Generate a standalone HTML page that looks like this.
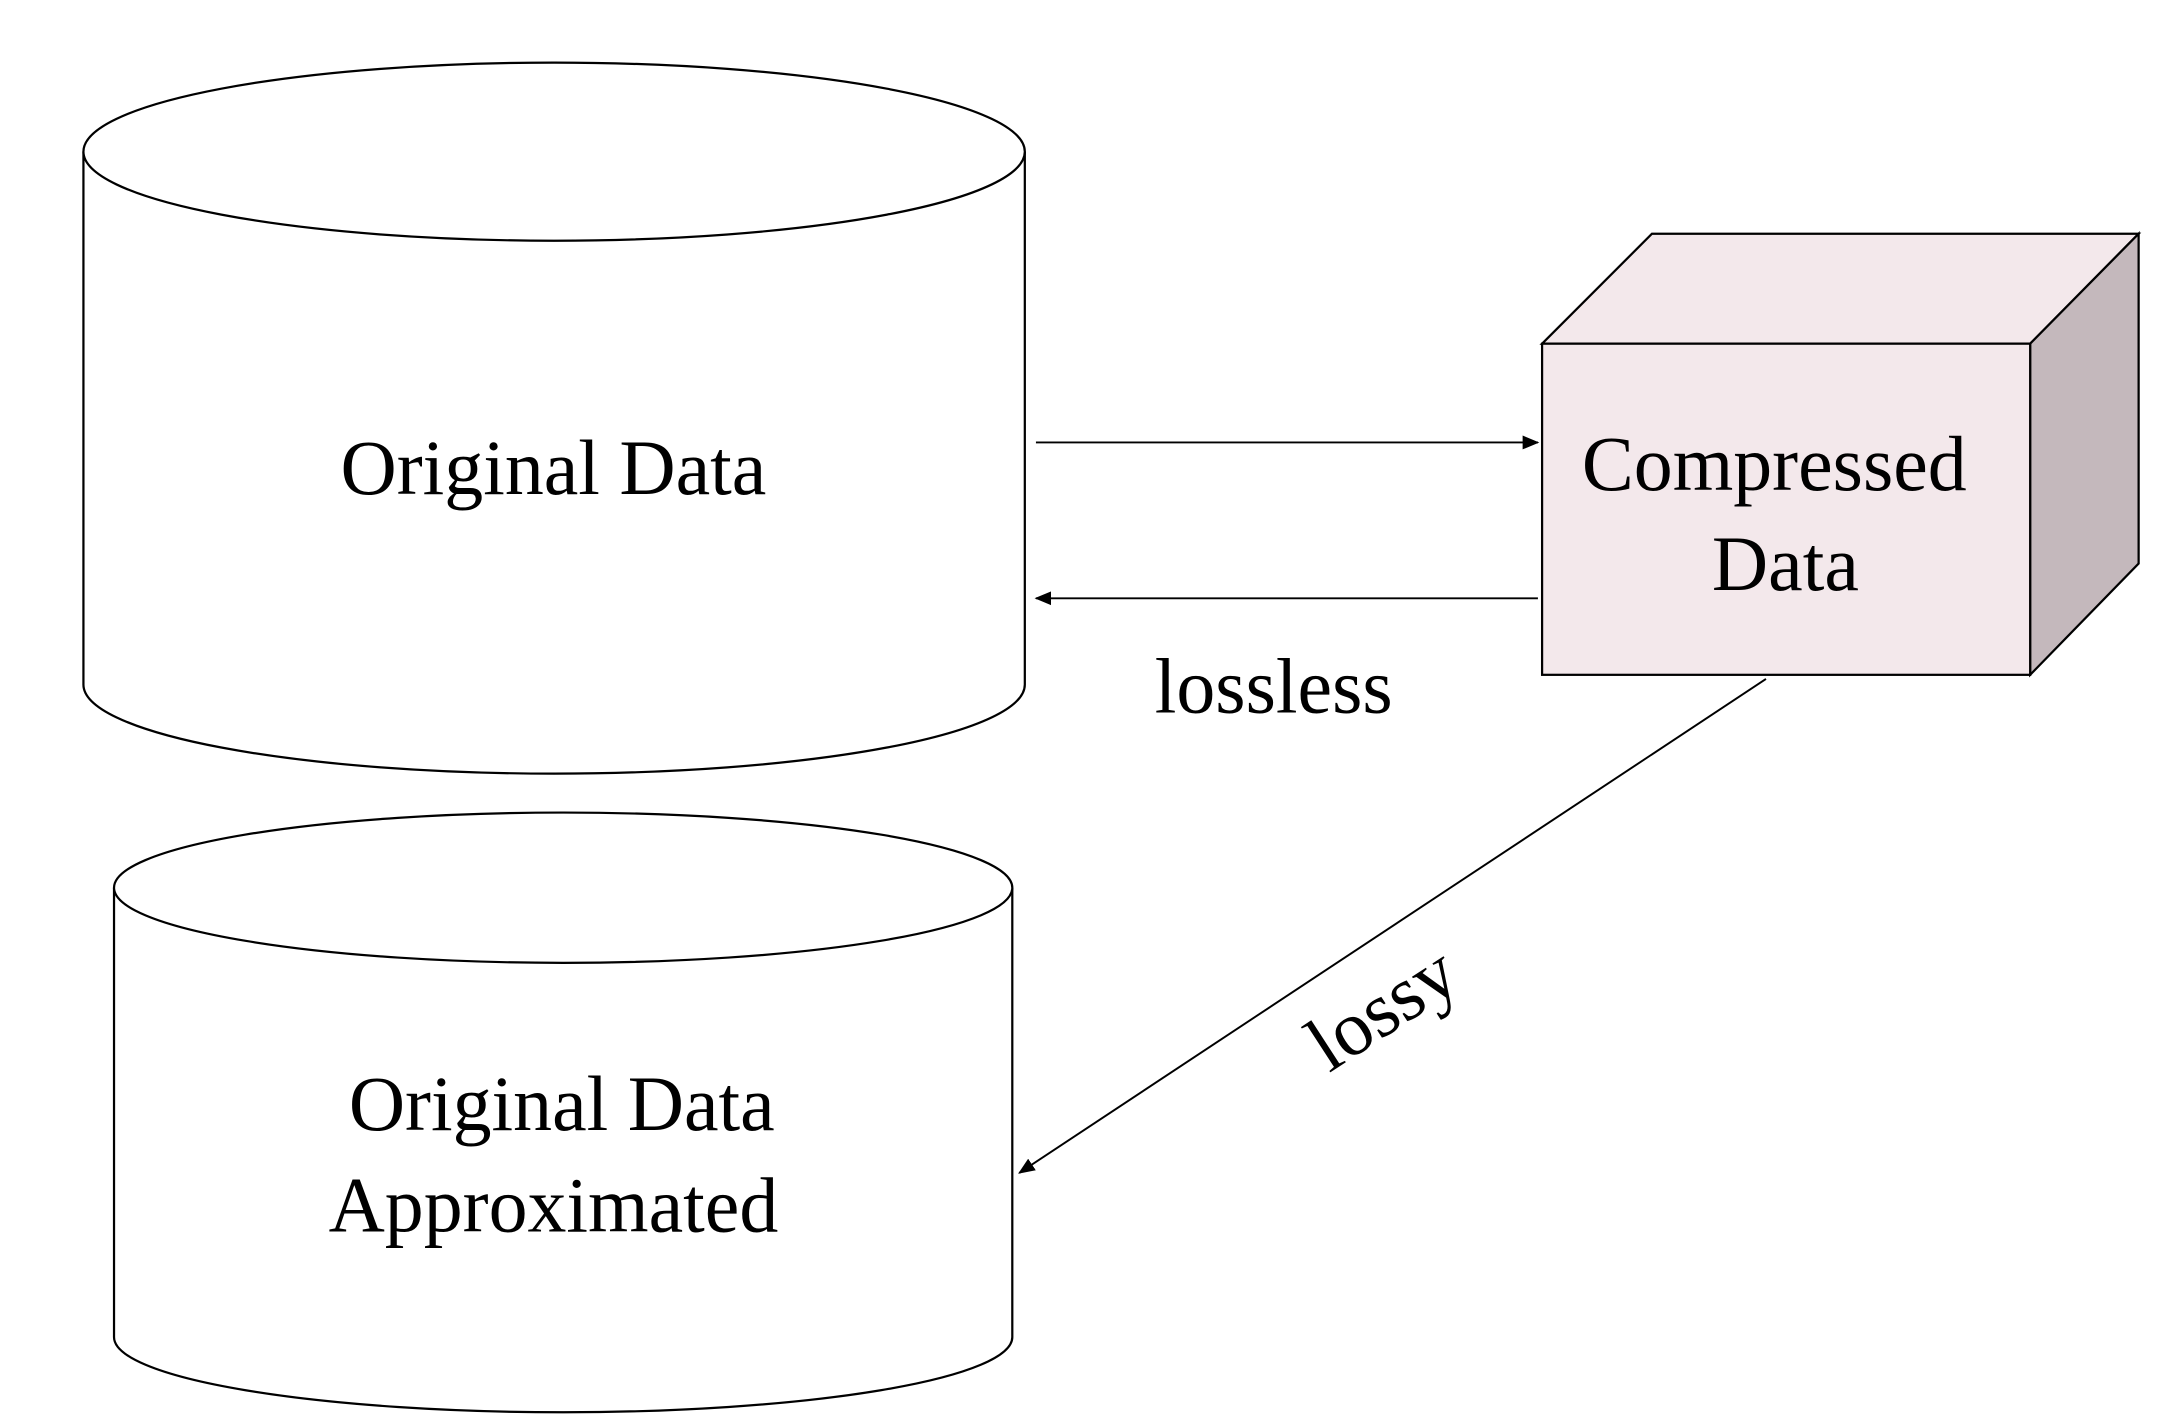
<!DOCTYPE html>
<html><head><meta charset="utf-8"><style>html,body{margin:0;padding:0;background:#fff}svg{display:block}</style></head>
<body>
<svg width="2172" height="1422" viewBox="0 0 1562 1022" preserveAspectRatio="none" xmlns="http://www.w3.org/2000/svg" font-family="Liberation Serif, serif">
<defs><marker id="a" markerWidth="12" markerHeight="10" refX="11" refY="5" orient="auto" markerUnits="userSpaceOnUse"><path d="M0,0 L12,5 L0,10 z" fill="#000"/></marker></defs>
<g fill="#fff" stroke="#000" stroke-width="1.6">
<path d="M60,109 L60,492 A338.5,64 0 0 0 737,492 L737,109"/>
<ellipse cx="398.5" cy="109" rx="338.5" ry="64"/>
<path d="M82,638 L82,961 A323,54 0 0 0 728,961 L728,638"/>
<ellipse cx="405" cy="638" rx="323" ry="54"/>
<polygon points="1109,247 1188,168 1538,168 1460,247" fill="#f3e8eb"/>
<polygon points="1460,247 1538,168 1538,405 1460,485" fill="#c4b8bc"/>
<rect x="1109" y="247" width="351" height="238" fill="#f3e8eb"/>
</g>
<g stroke="#000" stroke-width="1.4">
<line x1="745" y1="318" x2="1106" y2="318" marker-end="url(#a)"/>
<line x1="1106" y1="430" x2="745" y2="430" marker-end="url(#a)"/>
<line x1="1270" y1="488" x2="733" y2="843" marker-end="url(#a)"/>
</g>
<g font-size="56" text-anchor="middle" fill="#000">
<text x="398" y="355">Original Data</text>
<text x="1276" y="352">Compressed</text>
<text x="1284" y="424">Data</text>
<text x="916" y="512">lossless</text>
<text x="404" y="812">Original Data</text>
<text x="398" y="885">Approximated</text>
<text transform="translate(1004,740) rotate(-33)">lossy</text>
</g>
</svg>
</body></html>
